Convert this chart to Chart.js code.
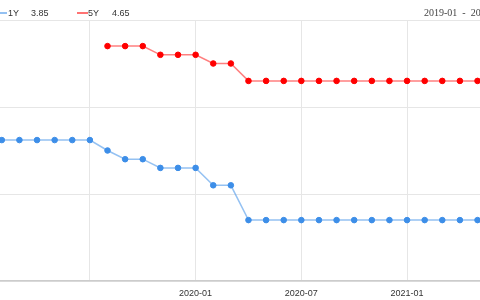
<!DOCTYPE html>
<html lang="en">
<head>
    <meta charset="UTF-8">
    <title>LPR 1Y / 5Y</title>
    <script src="https://cdn.jsdelivr.net/npm/chart.js"></script>
    <style>
        body {
            margin: 0;
            overflow: hidden;
            background: #fff;
            font-family: "Liberation Sans", Arial, sans-serif;
        }
        #wrap {
            position: relative;
            width: 480px;
            height: 300px;
        }
        .lg {
            position: absolute;
            top: 8px;
            font-size: 9px;
            line-height: 10px;
            color: #333;
            white-space: pre;
        }
        .lg-line {
            position: absolute;
            top: 12px;
            height: 1.5px;
        }
        #range {
            position: absolute;
            top: 7px;
            left: 424px;
            font-family: "Liberation Serif", serif;
            font-size: 10px;
            line-height: 11px;
            color: #444;
            white-space: pre;
        }
    </style>
</head>
<body>

<div id="wrap">
    <canvas id="lprChart"></canvas>
    <div class="lg-line" style="left:0;width:7px;background:rgba(61,142,232,0.55)"></div>
    <div class="lg" id="name1" style="left:8px"></div>
    <div class="lg" id="val1" style="left:31px"></div>
    <div class="lg-line" style="left:77px;width:11px;background:rgba(255,0,0,0.55)"></div>
    <div class="lg" id="name2" style="left:88px"></div>
    <div class="lg" id="val2" style="left:112px"></div>
    <div id="range"></div>
</div>

<script>
    const months = [
        '2019-02', '2019-03', '2019-04', '2019-05', '2019-06', '2019-07',
        '2019-08', '2019-09', '2019-10', '2019-11', '2019-12',
        '2020-01', '2020-02', '2020-03', '2020-04', '2020-05', '2020-06',
        '2020-07', '2020-08', '2020-09', '2020-10', '2020-11', '2020-12',
        '2021-01', '2021-02', '2021-03', '2021-04', '2021-05'
    ];
    const seriesNames = ['1Y', '5Y'];
    const lpr1y = [
        4.31, 4.31, 4.31, 4.31, 4.31, 4.31,
        4.25, 4.20, 4.20, 4.15, 4.15,
        4.15, 4.05, 4.05, 3.85, 3.85, 3.85,
        3.85, 3.85, 3.85, 3.85, 3.85, 3.85,
        3.85, 3.85, 3.85, 3.85, 3.85
    ];
    const lpr5y = [
        null, null, null, null, null, null,
        4.85, 4.85, 4.85, 4.80, 4.80,
        4.80, 4.75, 4.75, 4.65, 4.65, 4.65,
        4.65, 4.65, 4.65, 4.65, 4.65, 4.65,
        4.65, 4.65, 4.65, 4.65, 4.65
    ];
    const gridMonths = ['2019-07', '2020-01', '2020-07', '2021-01'];
    const xTickLabels = ['', '2020-01', '2020-07', '2021-01'];
    const yTicks = [3.5, 4.0, 4.5, 5.0];
    const rangeText = '2019-01  -  2021-12';

    // month string -> number of months since 2019-01
    function monthIndex(m) {
        const [y, mo] = m.split('-').map(Number);
        return (y - 2019) * 12 + (mo - 1);
    }

    function toPoints(values) {
        return values.map((v, i) => ({x: monthIndex(months[i]), y: v}));
    }

    document.getElementById('name1').textContent = seriesNames[0];
    document.getElementById('val1').textContent = lpr1y[lpr1y.length - 1].toFixed(2);
    document.getElementById('name2').textContent = seriesNames[1];
    document.getElementById('val2').textContent = lpr5y[lpr5y.length - 1].toFixed(2);
    document.getElementById('range').textContent = rangeText;

    const gridColor = '#e6e6e6';

    new Chart(document.getElementById('lprChart'), {
        type: 'line',
        data: {
            datasets: [{
                label: seriesNames[0],
                data: toPoints(lpr1y),
                borderColor: 'rgba(61,142,232,0.55)',
                borderWidth: 1.5,
                pointRadius: 2.8,
                pointBorderWidth: 1,
                pointBackgroundColor: '#3d8ee8',
                pointBorderColor: '#3d8ee8',
                tension: 0,
                clip: false
            }, {
                label: seriesNames[1],
                data: toPoints(lpr5y),
                borderColor: 'rgba(255,0,0,0.5)',
                borderWidth: 1.5,
                pointRadius: 2.8,
                pointBorderWidth: 1,
                pointBackgroundColor: '#ff0000',
                pointBorderColor: '#ff0000',
                tension: 0,
                clip: false
            }]
        },
        options: {
            responsive: true,
            maintainAspectRatio: false,
            animation: false,
            layout: {autoPadding: false, padding: {top: 20, bottom: 0, left: 0, right: 0}},
            plugins: {
                legend: {display: false},
                tooltip: {enabled: false}
            },
            scales: {
                x: {
                    type: 'linear',
                    min: 0.898,
                    max: 28.14,
                    afterBuildTicks: scale => {
                        scale.ticks = gridMonths.map(m => ({value: monthIndex(m)}));
                    },
                    afterFit: scale => {
                        scale.height = 19;
                    },
                    grid: {color: gridColor, drawTicks: false},
                    border: {color: '#cccccc', width: 1.5},
                    ticks: {
                        padding: 7,
                        color: '#333',
                        font: {family: 'Liberation Sans', size: 9},
                        maxRotation: 0,
                        autoSkip: false,
                        callback: (value, i) => xTickLabels[i]
                    }
                },
                y: {
                    min: 3.5,
                    max: 5.0,
                    afterBuildTicks: scale => {
                        scale.ticks = yTicks.map(v => ({value: v}));
                    },
                    afterFit: scale => {
                        scale.width = 0;
                    },
                    grid: {color: gridColor, drawTicks: false},
                    border: {display: false},
                    ticks: {display: false}
                }
            }
        }
    });
</script>
</body>
</html>
